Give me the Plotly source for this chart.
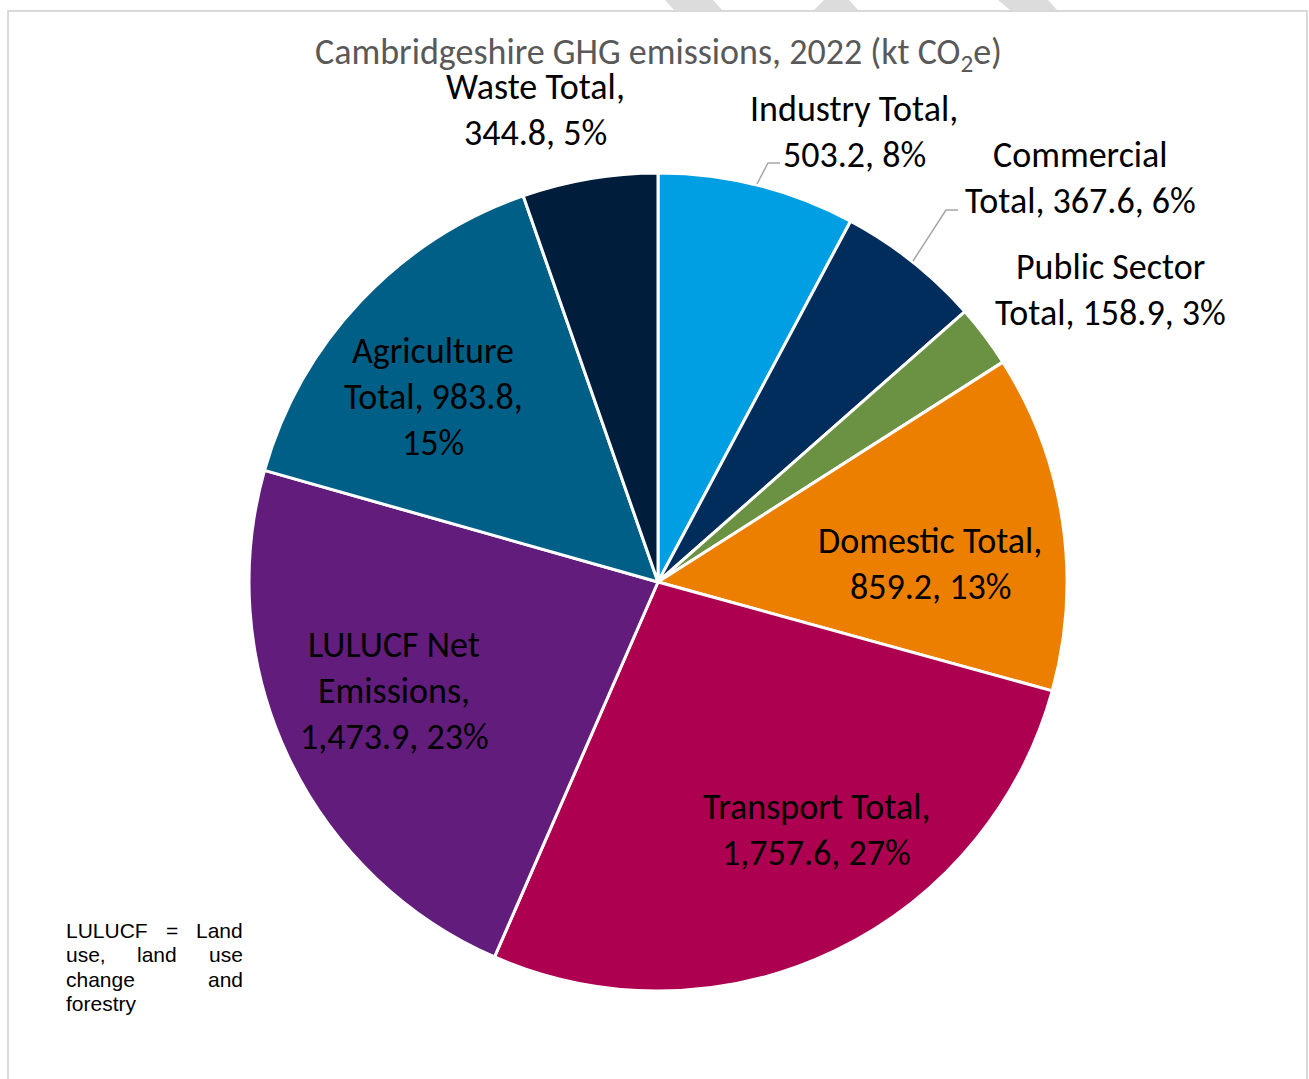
import plotly.graph_objects as go

# Emissions by sector (kt CO2e), in clockwise order from 12 o'clock
sectors = ["Industry Total", "Commercial Total", "Public Sector Total", "Domestic Total",
           "Transport Total", "LULUCF Net Emissions", "Agriculture Total", "Waste Total"]
emissions = [503.2, 367.6, 158.9, 859.2, 1757.6, 1473.9, 983.8, 344.8]
share_pct = [8, 6, 3, 13, 27, 23, 15, 5]
colors = ["#009FE3", "#002D5C", "#6B9142", "#ED7F00", "#AE0050", "#621D7C", "#005F86", "#001D3B"]

# How each sector label is broken into lines (name part; value line appended)
label_lines = [
    ["Industry Total,", "{v}, {p}%"],
    ["Commercial", "Total, {v}, {p}%"],
    ["Public Sector", "Total, {v}, {p}%"],
    ["Domestic Total,", "{v}, {p}%"],
    ["Transport Total,", "{v}, {p}%"],
    ["LULUCF Net", "Emissions,", "{v}, {p}%"],
    ["Agriculture", "Total, {v},", "{p}%"],
    ["Waste Total,", "{v}, {p}%"],
]
# label centre (px) of the first line for each sector
label_pos = [(854, 109), (1080, 155), (1110, 267), (930, 541),
             (816, 807), (394, 645), (433, 351), (535, 87)]

W, H = 1309, 1079
CX, CY, R = 658, 582, 409
LINE_GAP = 46
LABEL_FONT = "Carlito, Lato, sans-serif"
LABEL_SIZE = 36


def px(x):
    return x / W


def py(y):
    return 1 - y / H


fig = go.Figure(go.Pie(
    labels=sectors,
    values=emissions,
    sort=False,
    direction="clockwise",
    rotation=0,
    marker=dict(colors=colors, line=dict(color="white", width=3)),
    textinfo="none",
    hoverinfo="label+value+percent",
    showlegend=False,
    domain=dict(x=[px(CX - R), px(CX + R)], y=[py(CY + R), py(CY - R)]),
))

annotations = []
for lines, (lx, ly), v, p in zip(label_lines, label_pos, emissions, share_pct):
    for i, line in enumerate(lines):
        annotations.append(dict(
            x=px(lx), y=py(ly + i * LINE_GAP), xref="paper", yref="paper",
            text=line.format(v=f"{v:,.1f}", p=p), showarrow=False,
            xanchor="center", yanchor="middle",
            font=dict(family=LABEL_FONT, size=LABEL_SIZE, color="#000000"),
        ))

# Chart title
annotations.append(dict(
    x=px(658), y=py(54), xref="paper", yref="paper",
    text="Cambridgeshire GHG emissions, 2022 (kt CO<sub>2</sub>e)",
    showarrow=False, xanchor="center", yanchor="middle",
    font=dict(family=LABEL_FONT, size=LABEL_SIZE, color="#595959"),
))

# Justified footnote explaining the LULUCF abbreviation
note_words = [
    [("LULUCF", 64, "left"), ("=", 172, "center"), ("Land", 245, "right")],
    [("use,", 64, "left"), ("land", 157, "center"), ("use", 245, "right")],
    [("change", 64, "left"), ("and", 245, "right")],
    [("forestry", 64, "left")],
]
for row, words in enumerate(note_words):
    for word, wx, anchor in words:
        annotations.append(dict(
            x=px(wx), y=py(930 + row * 24.5), xref="paper", yref="paper",
            text=word, showarrow=False, xanchor=anchor, yanchor="middle",
            font=dict(family="Liberation Sans, Arial, sans-serif", size=21, color="#000000"),
        ))

shapes = []
# Chart-area border
shapes.append(dict(type="rect", xref="paper", yref="paper",
                   x0=px(8), x1=px(1307), y0=py(1090), y1=py(11),
                   line=dict(color="#D9D9D9", width=2), fillcolor="rgba(0,0,0,0)"))
# Leader lines for the two outside labels
for path in ["M {a},{b} L {c},{d} L {e},{f}".format(a=px(780), b=py(163), c=px(768), d=py(163), e=px(757), f=py(184)),
             "M {a},{b} L {c},{d} L {e},{f}".format(a=px(958), b=py(210), c=px(946), d=py(210), e=px(913), f=py(261))]:
    shapes.append(dict(type="path", xref="paper", yref="paper", path=path,
                       line=dict(color="#A6A6A6", width=1.5)))
# Faint watermark fragments along the top edge
for pts in [[(665, 0), (713, 0), (722, 10), (674, 10)],
            [(824, 0), (849, 0), (858, 10), (814, 10)],
            [(998, 0), (1048, 0), (1057, 10), (1010, 10)]]:
    d = "M " + " L ".join(f"{px(x)},{py(y)}" for x, y in pts) + " Z"
    shapes.append(dict(type="path", xref="paper", yref="paper", path=d,
                       fillcolor="#DCDCDC", line=dict(width=0), layer="below"))

fig.update_layout(
    width=W, height=H,
    margin=dict(l=0, r=0, t=0, b=0),
    paper_bgcolor="white", plot_bgcolor="white",
    annotations=annotations,
    shapes=shapes,
)

fig.write_html("out.html")
